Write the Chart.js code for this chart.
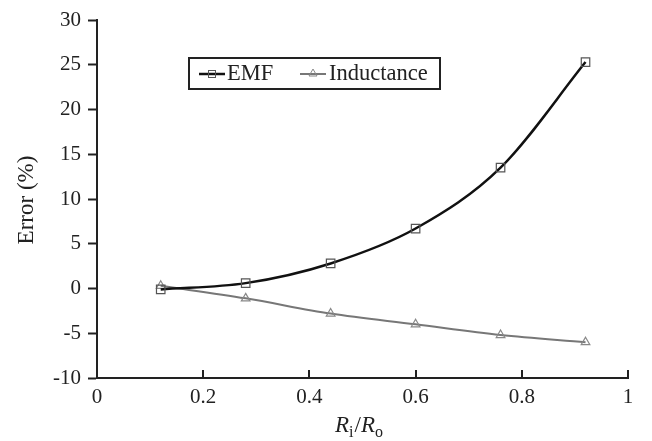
<!DOCTYPE html>
<html>
<head>
<meta charset="utf-8">
<script src="https://cdn.jsdelivr.net/npm/chart.js@4.4.1/dist/chart.umd.min.js"></script>
<style>
  body { margin: 0; background: #fff; }
  #wrap { width: 652px; height: 441px; }
</style>
</head>
<body>
<div id="wrap"><canvas id="chart"></canvas></div>
<script>
// data
var ratios = [0.12, 0.28, 0.44, 0.6, 0.76, 0.92];
var emfError = [-0.1, 0.6, 2.8, 6.7, 13.5, 25.3];
var inductanceError = [0.3, -1.1, -2.8, -4.0, -5.2, -6.0];
var xTicks = [0, 0.2, 0.4, 0.6, 0.8, 1];
var yTicks = [-10, -5, 0, 5, 10, 15, 20, 25, 30];

var FONT = "'Liberation Serif', 'DejaVu Serif', serif";

function toPoints(xs, ys) {
  return xs.map(function (x, i) { return { x: x, y: ys[i] }; });
}

// legend box, axis titles and inward x ticks
var extras = {
  id: "extras",
  afterDraw: function (chart) {
    var c = chart.ctx;
    var xs = chart.scales.x;
    var ys = chart.scales.y;
    c.save();

    // x ticks point up into the plot
    c.strokeStyle = "#222";
    c.lineWidth = 2;
    xTicks.forEach(function (v) {
      var px = Math.round(xs.getPixelForValue(v));
      c.beginPath();
      c.moveTo(px, ys.bottom);
      c.lineTo(px, ys.bottom - 8);
      c.stroke();
    });

    // y title
    c.fillStyle = "#222";
    c.font = "23px " + FONT;
    c.textAlign = "center";
    c.textBaseline = "middle";
    c.translate(27, 200);
    c.rotate(-Math.PI / 2);
    c.fillText("Error (%)", 0, 0);
    c.setTransform(1, 0, 0, 1, 0, 0);

    // x title R_i/R_o
    var y0 = 432;
    var x0 = 335;
    c.textAlign = "left";
    c.textBaseline = "alphabetic";
    c.font = "italic 23px " + FONT;
    c.fillText("R", x0, y0);
    x0 += c.measureText("R").width;
    c.font = "16px " + FONT;
    c.fillText("i", x0, y0 + 5);
    x0 += c.measureText("i").width + 1;
    c.font = "23px " + FONT;
    c.fillText("/", x0, y0);
    x0 += c.measureText("/").width;
    c.font = "italic 23px " + FONT;
    c.fillText("R", x0, y0);
    x0 += c.measureText("R").width;
    c.font = "16px " + FONT;
    c.fillText("o", x0, y0 + 5);

    // legend
    c.strokeStyle = "#222";
    c.lineWidth = 2;
    c.strokeRect(189, 58, 251, 31);
    c.font = "22.5px " + FONT;
    c.textBaseline = "middle";

    c.strokeStyle = "#111";
    c.lineWidth = 2.5;
    c.beginPath(); c.moveTo(199, 74); c.lineTo(225, 74); c.stroke();
    c.lineWidth = 1;
    c.strokeStyle = "#555";
    c.strokeRect(208.5, 70.5, 7, 7);
    c.fillStyle = "#222";
    c.fillText("EMF", 227, 74);

    c.strokeStyle = "#777";
    c.lineWidth = 2;
    c.beginPath(); c.moveTo(300, 74); c.lineTo(326, 74); c.stroke();
    c.lineWidth = 1;
    c.strokeStyle = "#888";
    c.beginPath();
    c.moveTo(313, 69); c.lineTo(317, 76); c.lineTo(309, 76); c.closePath();
    c.stroke();
    c.fillText("Inductance", 329, 74);

    c.restore();
  }
};

new Chart(document.getElementById("chart").getContext("2d"), {
  type: "line",
  data: {
    datasets: [
      {
        label: "EMF",
        data: toPoints(ratios, emfError),
        borderColor: "#111",
        borderWidth: 2.5,
        tension: 0.4,
        cubicInterpolationMode: "monotone",
        pointStyle: "rect",
        pointRadius: 6,
        pointBorderWidth: 1.2,
        pointBorderColor: "#555",
        pointBackgroundColor: "rgba(0,0,0,0)",
        fill: false
      },
      {
        label: "Inductance",
        data: toPoints(ratios, inductanceError),
        borderColor: "#777",
        borderWidth: 2,
        tension: 0.4,
        cubicInterpolationMode: "monotone",
        pointStyle: "triangle",
        pointRadius: 5,
        pointBorderWidth: 1.2,
        pointBorderColor: "#888",
        pointBackgroundColor: "rgba(0,0,0,0)",
        fill: false
      }
    ]
  },
  options: {
    responsive: true,
    maintainAspectRatio: false,
    animation: false,
    layout: { padding: { top: 20, right: 24, left: 0, bottom: 0 } },
    plugins: { legend: { display: false }, tooltip: { enabled: false } },
    scales: {
      x: {
        type: "linear",
        min: 0,
        max: 1,
        afterBuildTicks: function (s) { s.ticks = xTicks.map(function (v) { return { value: v }; }); },
        afterFit: function (s) { s.height = 63; },
        grid: { display: false, drawTicks: false },
        border: { display: true, color: "#222", width: 2 },
        ticks: {
          padding: 7,
          color: "#222",
          font: { family: FONT, size: 21 },
          maxRotation: 0,
          callback: function (v) { return String(v); }
        }
      },
      y: {
        type: "linear",
        min: -10,
        max: 30,
        afterBuildTicks: function (s) { s.ticks = yTicks.map(function (v) { return { value: v }; }); },
        afterFit: function (s) { s.width = 97; },
        grid: { drawOnChartArea: false, drawTicks: true, tickLength: 9, tickWidth: 2, tickColor: "#222" },
        border: { display: true, color: "#222", width: 2 },
        ticks: {
          padding: 7,
          color: "#222",
          font: { family: FONT, size: 21 }
        }
      }
    }
  },
  plugins: [extras]
});
</script>
</body>
</html>
